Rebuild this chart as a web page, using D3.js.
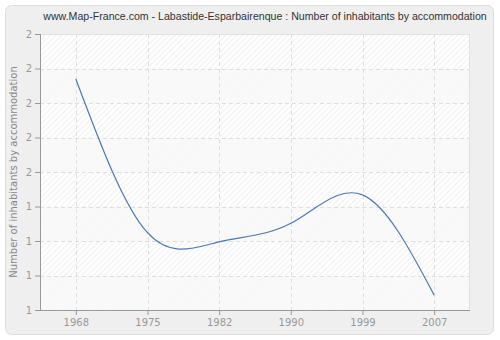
<!DOCTYPE html>
<html>
<head>
<meta charset="utf-8">
<script src="https://d3js.org/d3.v7.min.js"></script>
<style>
  body { margin: 0; background: #fff; }
  text { font-family: "DejaVu Sans", Verdana, sans-serif; }
</style>
</head>
<body>
<div id="vis"></div>
<script>
// data
const years = ["1968", "1975", "1982", "1990", "1999", "2007"];
const values = [1.837, 1.28, 1.247, 1.314, 1.417, 1.054];
const yTicks = [1, 1.125, 1.25, 1.375, 1.5, 1.625, 1.75, 1.875, 2];
const title = "www.Map-France.com - Labastide-Esparbairenque : Number of inhabitants by accommodation";
const yTitle = "Number of inhabitants by accommodation";

const W = 500, H = 340;
const m = { left: 40, right: 30, top: 34, bottom: 30 };

const svg = d3.select("#vis").append("svg")
  .attr("width", W).attr("height", H);

// outer panel
svg.append("rect")
  .attr("x", 5.5).attr("y", 5.5)
  .attr("width", 488).attr("height", 329)
  .attr("rx", 6)
  .attr("fill", "#efefef")
  .attr("stroke", "#dddddd");

let x = d3.scalePoint().domain(years).range([m.left, W - m.right]).padding(0.5);
let y = d3.scaleLinear().domain([1, 2]).range([H - m.bottom, m.top]);

// hatch pattern
const defs = svg.append("defs");
const pat = defs.append("pattern")
  .attr("id", "hatch").attr("patternUnits", "userSpaceOnUse")
  .attr("width", 4).attr("height", 4)
  .attr("patternTransform", "rotate(45)");
pat.append("rect").attr("width", 4).attr("height", 4).attr("fill", "#ffffff");
pat.append("line").attr("x1", 0).attr("y1", 0).attr("x2", 0).attr("y2", 4)
  .attr("stroke", "#e6e6e6").attr("stroke-width", 1.2);

svg.append("rect")
  .attr("x", m.left).attr("y", m.top)
  .attr("width", W - m.left - m.right).attr("height", H - m.top - m.bottom)
  .attr("fill", "url(#hatch)");

// alternating lighter bands
for (let i = 0; i < yTicks.length - 1; i++) {
  if (i % 2 === 0) {
    svg.append("rect")
      .attr("x", m.left).attr("width", W - m.left - m.right)
      .attr("y", y(yTicks[i + 1])).attr("height", y(yTicks[i]) - y(yTicks[i + 1]))
      .attr("fill", "#f8f8f8").attr("opacity", 0.85);
  }
}

// grid
svg.append("g").selectAll("line").data(yTicks.slice(1, -1)).join("line")
  .attr("x1", m.left).attr("x2", W - m.right)
  .attr("y1", d => Math.round(y(d)) + 0.5).attr("y2", d => Math.round(y(d)) + 0.5)
  .attr("stroke", "#dedede").attr("stroke-dasharray", "4,3");
svg.append("g").selectAll("line").data(years).join("line")
  .attr("x1", d => Math.round(x(d)) + 0.5).attr("x2", d => Math.round(x(d)) + 0.5)
  .attr("y1", m.top).attr("y2", H - m.bottom)
  .attr("stroke", "#dedede").attr("stroke-dasharray", "4,3");

// plot border top/right
svg.append("path")
  .attr("d", `M${m.left},${m.top + 0.5}H${W - m.right - 0.5}V${H - m.bottom}`)
  .attr("fill", "none").attr("stroke", "#e2e2e2");

// axes
const yAxis = d3.axisLeft(y).tickValues(yTicks).tickSize(5).tickPadding(3)
  .tickFormat(d => d3.format(".0f")(d + 1e-9));
const gy = svg.append("g").attr("transform", `translate(${m.left},0)`).call(yAxis);
const xAxis = d3.axisBottom(x).tickSize(5).tickPadding(4);
const gx = svg.append("g").attr("transform", `translate(0,${H - m.bottom})`).call(xAxis);
[gy, gx].forEach(g => {
  g.select(".domain").attr("stroke", "#999");
  g.selectAll(".tick line").attr("stroke", "#999");
  g.selectAll("text").attr("fill", "#999").style("font-size", "10px")
    .style("font-family", "'DejaVu Sans', Verdana, sans-serif");
});
gy.select(".domain").attr("d", `M0.5,${m.top}V${H - m.bottom + 0.5}`);
gx.select(".domain").attr("d", `M${m.left - 5},0.5H${W - m.right}`);

// line
const line = d3.line()
  .x((d, i) => x(years[i]))
  .y(d => y(d))
  .curve(d3.curveNatural);
svg.append("path").datum(values)
  .attr("d", line)
  .attr("fill", "none")
  .attr("stroke", "#4a7ab5")
  .attr("stroke-width", 1.2);

// titles
svg.append("text")
  .attr("x", 265).attr("y", 20)
  .attr("text-anchor", "middle")
  .attr("fill", "#333")
  .style("font-family", "'Liberation Sans', Arial, sans-serif")
  .style("font-size", "10.6px")
  .text(title);

svg.append("text")
  .attr("transform", `translate(17,${(m.top + H - m.bottom) / 2}) rotate(-90)`)
  .attr("text-anchor", "middle")
  .attr("fill", "#888")
  .style("font-size", "10px")
  .text(yTitle);
</script>
</body>
</html>
